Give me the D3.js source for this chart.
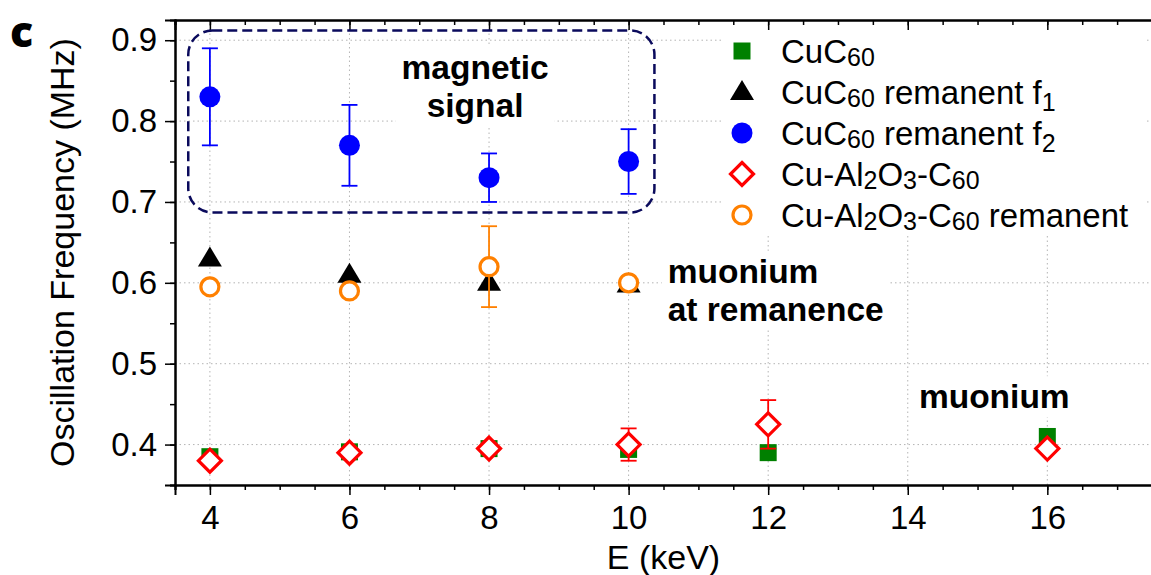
<!DOCTYPE html>
<html>
<head>
<meta charset="utf-8">
<script src="https://cdn.jsdelivr.net/npm/d3@7"></script>
<style>
  body { margin: 0; background: #fff; }
  svg { display: block; font-family: "Liberation Sans", Arial, sans-serif; }
</style>
</head>
<body>
<div id="chart"></div>
<script>
// --- data ---
const energies = [4, 6, 8, 10, 12, 16];
const energiesRem = [4, 6, 8, 10];

const cuC60 = [0.385, 0.391, 0.395, 0.394, 0.39, 0.41];
const remF1 = [0.63, 0.61, 0.6, 0.598];
const remF2 = [0.83, 0.77, 0.73, 0.75];
const remF2Err = [0.06, 0.05, 0.03, 0.04];
const cuAl = [0.38, 0.39, 0.395, 0.4, 0.425, 0.395];
const cuAlErr = [0, 0, 0, 0.02, 0.03, 0];
const cuAlRem = [0.595, 0.59, 0.62, 0.6];
const cuAlRemErr = [0, 0, 0.05, 0];

const xTicks = [4, 6, 8, 10, 12, 14, 16];
const yTicks = [0.4, 0.5, 0.6, 0.7, 0.8, 0.9];

// legend labels as [text, subscript?] pieces
const legendRows = [
  { key: 'square', parts: [['CuC'], ['60', 1]] },
  { key: 'triangle', parts: [['CuC'], ['60', 1], [' remanent f'], ['1', 2]] },
  { key: 'circle', parts: [['CuC'], ['60', 1], [' remanent f'], ['2', 2]] },
  { key: 'diamond', parts: [['Cu-Al'], ['2', 1], ['O'], ['3', 1], ['-C'], ['60', 1]] },
  { key: 'ring', parts: [['Cu-Al'], ['2', 1], ['O'], ['3', 1], ['-C'], ['60', 1], [' remanent']] }
];

const colors = { green: '#008000', black: '#000000', blue: '#0000ff', red: '#ff0000', orange: '#ff8000', navy: '#0a0a5c' };

const width = 1151;
const height = 575;
const margin = { top: 20, right: -1, bottom: 90, left: 175 };

const svg = d3.select('#chart').append('svg').attr('width', width).attr('height', height);

const x = d3.scaleLinear().domain([3.5, 17.5]).range([margin.left, width - margin.right]);
const y = d3.scaleLinear().domain([0.35, 0.925]).range([height - margin.bottom, margin.top]);

const plotTop = y.range()[1];
const plotBottom = y.range()[0];

// grid
const grid = svg.append('g').attr('stroke', '#b4b4b4').attr('stroke-width', 1).attr('stroke-dasharray', '1.5,3');
grid.selectAll('.vg').data(xTicks).enter().append('line')
  .attr('x1', (d) => x(d)).attr('x2', (d) => x(d)).attr('y1', plotTop).attr('y2', plotBottom);
grid.selectAll('.hg').data(yTicks).enter().append('line')
  .attr('y1', (d) => y(d)).attr('y2', (d) => y(d)).attr('x1', x.range()[0]).attr('x2', x.range()[1]);

// white backing behind text blocks (masks grid)
const maskLayer = svg.append('g');

// axes
const xMinor = d3.range(3.5, 17.51, 0.5);
const yMinor = d3.range(0.35, 0.9251, 0.05);

const bottomAxis = d3.axisBottom(x).tickValues(xTicks).tickSize(10).tickPadding(8).tickFormat(d3.format('d'));
const bottomMinor = d3.axisBottom(x).tickValues(xMinor).tickSize(5).tickFormat('');
const topAxis = d3.axisBottom(x).tickValues(xTicks).tickSize(10).tickFormat('');
const topMinor = d3.axisBottom(x).tickValues(xMinor).tickSize(5).tickFormat('');
const leftAxis = d3.axisLeft(y).tickValues(yTicks).tickSize(10).tickPadding(8).tickFormat(d3.format('.1f'));
const leftMinor = d3.axisLeft(y).tickValues(yMinor).tickSize(5).tickFormat('');

function styleAxis(g) {
  g.selectAll('path').attr('stroke', '#000').attr('stroke-width', 2);
  g.selectAll('line').attr('stroke', '#000').attr('stroke-width', 1.5);
  g.selectAll('text').attr('font-size', 33).attr('fill', '#000').attr('font-family', '"Liberation Sans", Arial, sans-serif');
}

svg.append('g').attr('transform', `translate(0,${plotBottom})`).call(bottomMinor).call(styleAxis);
svg.append('g').attr('transform', `translate(0,${plotBottom})`).call(bottomAxis).call(styleAxis)
  .selectAll('text').attr('dy', '0.8em');
svg.append('g').attr('transform', `translate(0,${plotTop})`).call(topMinor).call(styleAxis);
svg.append('g').attr('transform', `translate(0,${plotTop})`).call(topAxis).call(styleAxis);
svg.append('g').attr('transform', `translate(${margin.left},0)`).call(leftMinor).call(styleAxis);
svg.append('g').attr('transform', `translate(${margin.left},0)`).call(leftAxis).call(styleAxis);

// axis titles
svg.append('text')
  .attr('x', (x.range()[0] + x.range()[1]) / 2).attr('y', 569)
  .attr('text-anchor', 'middle').attr('font-size', 34).text('E (keV)');
svg.append('text')
  .attr('transform', `translate(74,${(plotTop + plotBottom) / 2}) rotate(-90)`)
  .attr('text-anchor', 'middle').attr('font-size', 34).text('Oscillation Frequency (MHz)');

// panel label
svg.append('text').attr('x', 10).attr('y', 47)
  .attr('font-family', '"Open Sans", "DejaVu Sans", sans-serif').attr('font-weight', 800)
  .attr('font-size', 43).text('c');

// dashed box around magnetic signal
const box = { x0: 3.69, x1: 10.37, y0: 0.912, y1: 0.687 };
svg.append('rect')
  .attr('x', x(box.x0)).attr('y', y(box.y0))
  .attr('width', x(box.x1) - x(box.x0)).attr('height', y(box.y1) - y(box.y0))
  .attr('rx', 24).attr('ry', 24)
  .attr('fill', 'none').attr('stroke', colors.navy).attr('stroke-width', 2.5)
  .attr('stroke-dasharray', '10,5');

// annotations
const notes = [
  { lines: ['magnetic', 'signal'], e: 7.8, v: 0.852, anchor: 'middle' },
  { lines: ['muonium', 'at remanence'], e: 10.56, v: 0.6, anchor: 'start' },
  { lines: ['muonium'], e: 15.24, v: 0.445, anchor: 'middle' }
];
notes.forEach((n) => {
  const t = svg.append('text').attr('font-weight', 'bold').attr('font-size', 33.5)
    .attr('text-anchor', n.anchor);
  n.lines.forEach((l, i) => {
    t.append('tspan').attr('x', x(n.e)).attr('y', y(n.v) + i * 38).text(l);
  });
  const bb = t.node().getBBox();
  maskLayer.append('rect').attr('x', bb.x - 6).attr('y', bb.y - 2)
    .attr('width', bb.width + 12).attr('height', bb.height + 4).attr('fill', '#fff');
});

// helpers
function errorBars(xs, vs, errs, color) {
  const g = svg.append('g').attr('stroke', color).attr('stroke-width', 1.8);
  xs.forEach((e, i) => {
    if (!errs[i]) return;
    const cx = x(e);
    const top = y(vs[i] + errs[i]);
    const bot = y(vs[i] - errs[i]);
    g.append('line').attr('x1', cx).attr('x2', cx).attr('y1', top).attr('y2', bot);
    g.append('line').attr('x1', cx - 8).attr('x2', cx + 8).attr('y1', top).attr('y2', top);
    g.append('line').attr('x1', cx - 8).attr('x2', cx + 8).attr('y1', bot).attr('y2', bot);
  });
}

const markers = {
  square: (g) => g.append('rect').attr('x', -8.5).attr('y', -8.5).attr('width', 17).attr('height', 17)
    .attr('fill', colors.green),
  triangle: (g) => g.append('path').attr('d', 'M0,-12 L12,8 L-12,8 Z').attr('fill', colors.black),
  circle: (g) => g.append('circle').attr('r', 10.5).attr('fill', colors.blue),
  diamond: (g) => g.append('path').attr('d', 'M0,-11.5 L11.5,0 L0,11.5 L-11.5,0 Z')
    .attr('fill', '#fff').attr('stroke', colors.red).attr('stroke-width', 3.2),
  ring: (g) => g.append('circle').attr('r', 9).attr('fill', '#fff')
    .attr('stroke', colors.orange).attr('stroke-width', 3.2)
};

function series(xs, vs, key) {
  svg.append('g').selectAll('g').data(xs).enter().append('g')
    .attr('transform', (d, i) => `translate(${x(d)},${y(vs[i])})`)
    .each(function () { markers[key](d3.select(this)); });
}

// data layers
series(energies, cuC60, 'square');
series(energiesRem, remF1, 'triangle');
errorBars(energiesRem, remF2, remF2Err, colors.blue);
series(energiesRem, remF2, 'circle');
errorBars(energies, cuAl, cuAlErr, colors.red);
series(energies, cuAl, 'diamond');
errorBars(energiesRem, cuAlRem, cuAlRemErr, colors.orange);
series(energiesRem, cuAlRem, 'ring');

// legend
maskLayer.append('rect').attr('x', 722).attr('y', 27).attr('width', 424).attr('height', 208).attr('fill', '#fff');
const legend = svg.append('g');
legendRows.forEach((row, i) => {
  const base = 63 + i * 41;
  const g = legend.append('g').attr('transform', `translate(742,${base - 12})`);
  markers[row.key](g);
  const t = legend.append('text').attr('x', 781).attr('y', base).attr('font-size', 33);
  let shift = 0;
  row.parts.forEach(([s, sub]) => {
    const want = sub === 1 ? 3 : sub === 2 ? 7 : 0;
    t.append('tspan').attr('dy', want - shift).attr('font-size', sub ? 25 : 33).text(s);
    shift = want;
  });
});
</script>
</body>
</html>
